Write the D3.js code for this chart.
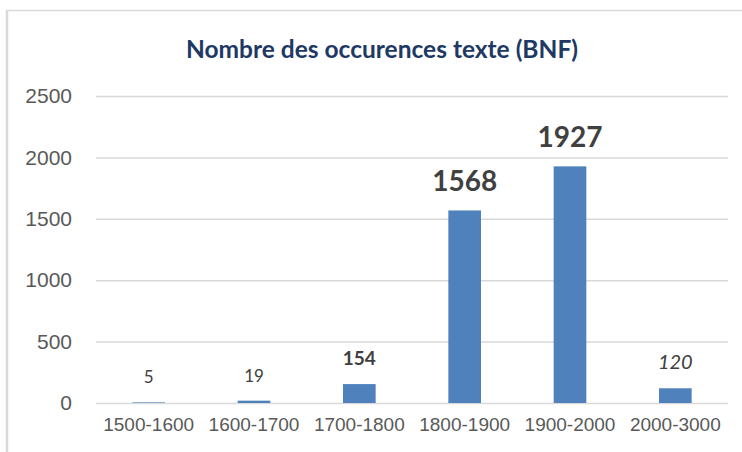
<!DOCTYPE html>
<html>
<head>
<meta charset="utf-8">
<script src="https://cdn.jsdelivr.net/npm/d3@7/dist/d3.min.js"></script>
<style>
  html, body { margin: 0; padding: 0; background: #fff; }
  svg { display: block; font-family: Lato, "Open Sans", sans-serif; }
</style>
</head>
<body>
<svg id="chart" width="742" height="452"></svg>
<script>
// data
var periods = ['1500-1600', '1600-1700', '1700-1800', '1800-1900', '1900-2000', '2000-3000'];
var occurrences = [5, 19, 154, 1568, 1927, 120];
var yTicks = [0, 500, 1000, 1500, 2000, 2500];
var chartTitle = 'Nombre des occurences texte (BNF)';

const barColor = '#4f81bd';
const gridColor = '#d9d9d9';
const axisTextColor = '#595959';
const labelColor = '#404040';

var svg = d3.select('#chart');

// chart frame (only top and left edges are visible in the crop)
svg.append('line')
  .attr('x1', 6).attr('x2', 742).attr('y1', 10.5).attr('y2', 10.5)
  .attr('stroke', gridColor).attr('stroke-width', 1.5);
svg.append('line')
  .attr('x1', 7).attr('x2', 7).attr('y1', 10).attr('y2', 452)
  .attr('stroke', gridColor).attr('stroke-width', 2.5);

var x = d3.scaleBand()
  .domain(periods)
  .range([96, 728])
  .paddingInner(0.69)
  .paddingOuter(0.345);

var y = d3.scaleLinear()
  .domain([0, 2500])
  .range([403, 96]);

// gridlines + y labels
var yAxis = d3.axisLeft(y)
  .tickValues(yTicks)
  .tickSize(-(728 - 96))
  .tickPadding(24)
  .tickFormat(d3.format('d'));

var gy = svg.append('g')
  .attr('transform', 'translate(96,0)')
  .call(yAxis);
gy.select('.domain').remove();
gy.selectAll('.tick line').attr('stroke', gridColor).attr('stroke-width', 1.5);
gy.selectAll('.tick text')
  .attr('fill', axisTextColor)
  .attr('font-size', 21)
  .attr('x', -24);

// x labels
var xAxis = d3.axisBottom(x).tickSize(0).tickPadding(15);
var gx = svg.append('g')
  .attr('transform', 'translate(0,403)')
  .call(xAxis);
gx.select('.domain').remove();
gx.selectAll('.tick text')
  .attr('fill', axisTextColor)
  .attr('font-size', 19);

var rows = periods.map((p, i) => ({ period: p, value: occurrences[i] }));

svg.append('g')
  .selectAll('rect')
  .data(rows)
  .join('rect')
  .attr('x', (d) => x(d.period))
  .attr('y', (d) => y(d.value))
  .attr('width', x.bandwidth())
  .attr('height', (d) => y(0) - y(d.value))
  .attr('fill', barColor);

// the data labels are formatted by hand in the original, one by one
function labelStyle(d) {
  if (d.value >= 1000) return { size: 28, weight: 'bold', italic: false };
  if (d.period === '1700-1800') return { size: 19, weight: 'bold', italic: false };
  if (d.period === '2000-3000') return { size: 20, weight: 'normal', italic: true };
  return { size: 17, weight: 'normal', italic: false };
}

svg.append('g')
  .selectAll('text')
  .data(rows)
  .join('text')
  .attr('x', (d) => x(d.period) + x.bandwidth() / 2)
  .attr('y', (d) => y(d.value) - 19)
  .attr('text-anchor', 'middle')
  .attr('fill', labelColor)
  .attr('font-size', (d) => labelStyle(d).size)
  .attr('font-weight', (d) => labelStyle(d).weight)
  .attr('font-style', (d) => (labelStyle(d).italic ? 'italic' : 'normal'))
  .text((d) => d.value);

svg.append('text')
  .attr('x', 382)
  .attr('y', 58)
  .attr('text-anchor', 'middle')
  .attr('fill', '#203864')
  .attr('font-size', 24.5)
  .attr('font-weight', 'bold')
  .text(chartTitle);
</script>
</body>
</html>
